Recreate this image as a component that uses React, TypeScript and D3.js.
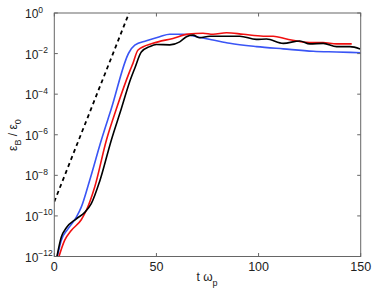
import * as d3 from "d3";
import { useEffect, useRef } from "react";

// time (t omega_p) and energy ratio eps_B / eps_0
const blackT = [1.2, 3.4, 5.9, 10.8, 14.9, 18.1, 22.2, 27.9, 32.8, 36.9, 39.4, 42.6, 46.7, 50.0, 56.5, 61.4, 64.7, 67.9, 71.2, 76.1, 82.6, 90.8, 98.9, 103.9, 112.1, 120.2, 125.1, 131.7, 138.2, 144.8, 149.7];
const blackY = [8.9e-13, 8.9e-12, 2.6e-11, 7.2e-11, 1.5e-10, 4.0e-10, 5.0e-9, 5.4e-7, 1.9e-5, 4.1e-4, 1.9e-3, 1.2e-2, 2.2e-2, 2.8e-2, 2.7e-2, 3.8e-2, 6.8e-2, 8.1e-2, 6.0e-2, 7.2e-2, 7.2e-2, 7.2e-2, 5.0e-2, 5.2e-2, 3.2e-2, 4.2e-2, 3.0e-2, 3.2e-2, 2.2e-2, 2.2e-2, 1.7e-2];

const redT = [2.25, 5.05, 8.3, 13.2, 15.7, 19.75, 25.5, 30.4, 37.0, 38.5, 41.0, 48.3, 58.1, 65.5, 72.8, 77.7, 84.3, 92.5, 102.3, 107.2, 113.7, 125.0, 131.5, 138.2, 145.6];
const redY = [9.8e-13, 6.2e-12, 1.9e-11, 6.5e-11, 1.9e-10, 2.6e-9, 5.4e-7, 1.9e-5, 1.4e-3, 3.3e-3, 1.5e-2, 3.2e-2, 5.6e-2, 9.1e-2, 1.0e-1, 8.9e-2, 1.07e-1, 8.9e-2, 7.2e-2, 7.2e-2, 5.2e-2, 3.5e-2, 3.5e-2, 3.0e-2, 3.0e-2];

const blueT = [1.5, 3.4, 6.7, 10.8, 13.2, 17.3, 23.0, 27.9, 36.5, 39.4, 45.1, 51.6, 56.5, 63.0, 69.6, 77.7, 85.9, 99.0, 112.1, 126.8, 138.2, 150];
const blueY = [1.0e-12, 6.2e-12, 2.3e-11, 8.7e-11, 2.7e-10, 5.6e-9, 5.4e-7, 1.9e-5, 1.1e-2, 2.6e-2, 4.3e-2, 6.8e-2, 8.9e-2, 8.9e-2, 6.8e-2, 4.7e-2, 3.2e-2, 2.2e-2, 1.7e-2, 1.3e-2, 1.2e-2, 1.1e-2];

// dashed reference growth line (two end points)
const dashT = [0, 36.6];
const dashY = [5.0e-10, 1];

const xTicks = [0, 50, 100, 150];
const yExps = [0, -2, -4, -6, -8, -10, -12];

export default function App() {
    const ref = useRef<SVGSVGElement>(null);

    useEffect(() => {
        const svg = d3.select(ref.current);
        svg.selectAll("*").remove();

        const left = 54.3, right = 360.7, top = 13, bottom = 256.5;
        const X = d3.scaleLinear().domain([0, 150]).range([left, right]);
        const Y = d3.scaleLog().domain([1e-12, 1]).range([bottom, top]);
        const axisColor = "#666";
        const font = "'Liberation Sans', Arial, sans-serif";

        svg.append("defs").append("clipPath").attr("id", "plotclip")
            .append("rect").attr("x", left).attr("y", top)
            .attr("width", right - left).attr("height", bottom - top);

        const g = svg.append("g").attr("clip-path", "url(#plotclip)");

        const line = d3.line<[number, number]>()
            .x(d => X(d[0]))
            .y(d => Y(d[1]))
            .curve(d3.curveMonotoneX);

        const series = [
            { t: blueT, y: blueY, color: "#3a55f5" },
            { t: redT, y: redY, color: "#f01010" },
            { t: blackT, y: blackY, color: "#000" },
        ];
        series.forEach(s => {
            g.append("path")
                .attr("d", line(s.t.map((t, i) => [t, s.y[i]] as [number, number])))
                .attr("fill", "none")
                .attr("stroke", s.color)
                .attr("stroke-width", 1.6);
        });

        g.append("path")
            .attr("d", d3.line<[number, number]>().x(d => X(d[0])).y(d => Y(d[1]))(dashT.map((t, i) => [t, dashY[i]] as [number, number])))
            .attr("fill", "none")
            .attr("stroke", "#000")
            .attr("stroke-width", 1.8)
            .attr("stroke-dasharray", "4,3.5");

        // frame
        svg.append("rect")
            .attr("x", left).attr("y", top)
            .attr("width", right - left).attr("height", bottom - top)
            .attr("fill", "none").attr("stroke", axisColor).attr("stroke-width", 1);

        // ticks (inward, on all sides)
        const tl = 3.5;
        xTicks.forEach(v => {
            svg.append("line").attr("x1", X(v)).attr("x2", X(v)).attr("y1", bottom).attr("y2", bottom - tl).attr("stroke", axisColor);
            svg.append("line").attr("x1", X(v)).attr("x2", X(v)).attr("y1", top).attr("y2", top + tl).attr("stroke", axisColor);
            svg.append("text").text(v)
                .attr("x", X(v)).attr("y", 270.5)
                .attr("text-anchor", "middle")
                .attr("font-family", font).attr("font-size", 12.5).attr("fill", "#222");
        });
        yExps.forEach(e => {
            const yy = Y(Math.pow(10, e));
            svg.append("line").attr("x1", left).attr("x2", left + tl).attr("y1", yy).attr("y2", yy).attr("stroke", axisColor);
            svg.append("line").attr("x1", right).attr("x2", right - tl).attr("y1", yy).attr("y2", yy).attr("stroke", axisColor);
            const t = svg.append("text")
                .attr("x", 25).attr("y", yy + 5)
                .attr("font-family", font).attr("font-size", 12).attr("fill", "#222");
            t.append("tspan").text("10");
            t.append("tspan").text(e === 0 ? "0" : "\u2212" + Math.abs(e))
                .attr("dy", -5.5).attr("font-size", 8.5);
        });

        // axis labels
        const xl = svg.append("text")
            .attr("x", 207).attr("y", 281)
            .attr("text-anchor", "middle")
            .attr("font-family", font).attr("font-size", 12).attr("fill", "#222");
        xl.append("tspan").text("t \u03c9");
        xl.append("tspan").text("p").attr("dy", 5).attr("font-size", 9);

        const yl = svg.append("text")
            .attr("transform", "translate(17,135) rotate(-90)")
            .attr("text-anchor", "middle")
            .attr("font-family", font).attr("font-size", 12).attr("fill", "#222");
        yl.append("tspan").text("\u03b5");
        yl.append("tspan").text("B").attr("dy", 4).attr("font-size", 9);
        yl.append("tspan").text(" / \u03b5").attr("dy", -4);
        yl.append("tspan").text("0").attr("dy", 4).attr("font-size", 9);
    }, []);

    return (
        <svg ref={ref} width={374} height={289}
            style={{ position: "absolute", left: 0, top: 0, background: "#fff" }} />
    );
}
